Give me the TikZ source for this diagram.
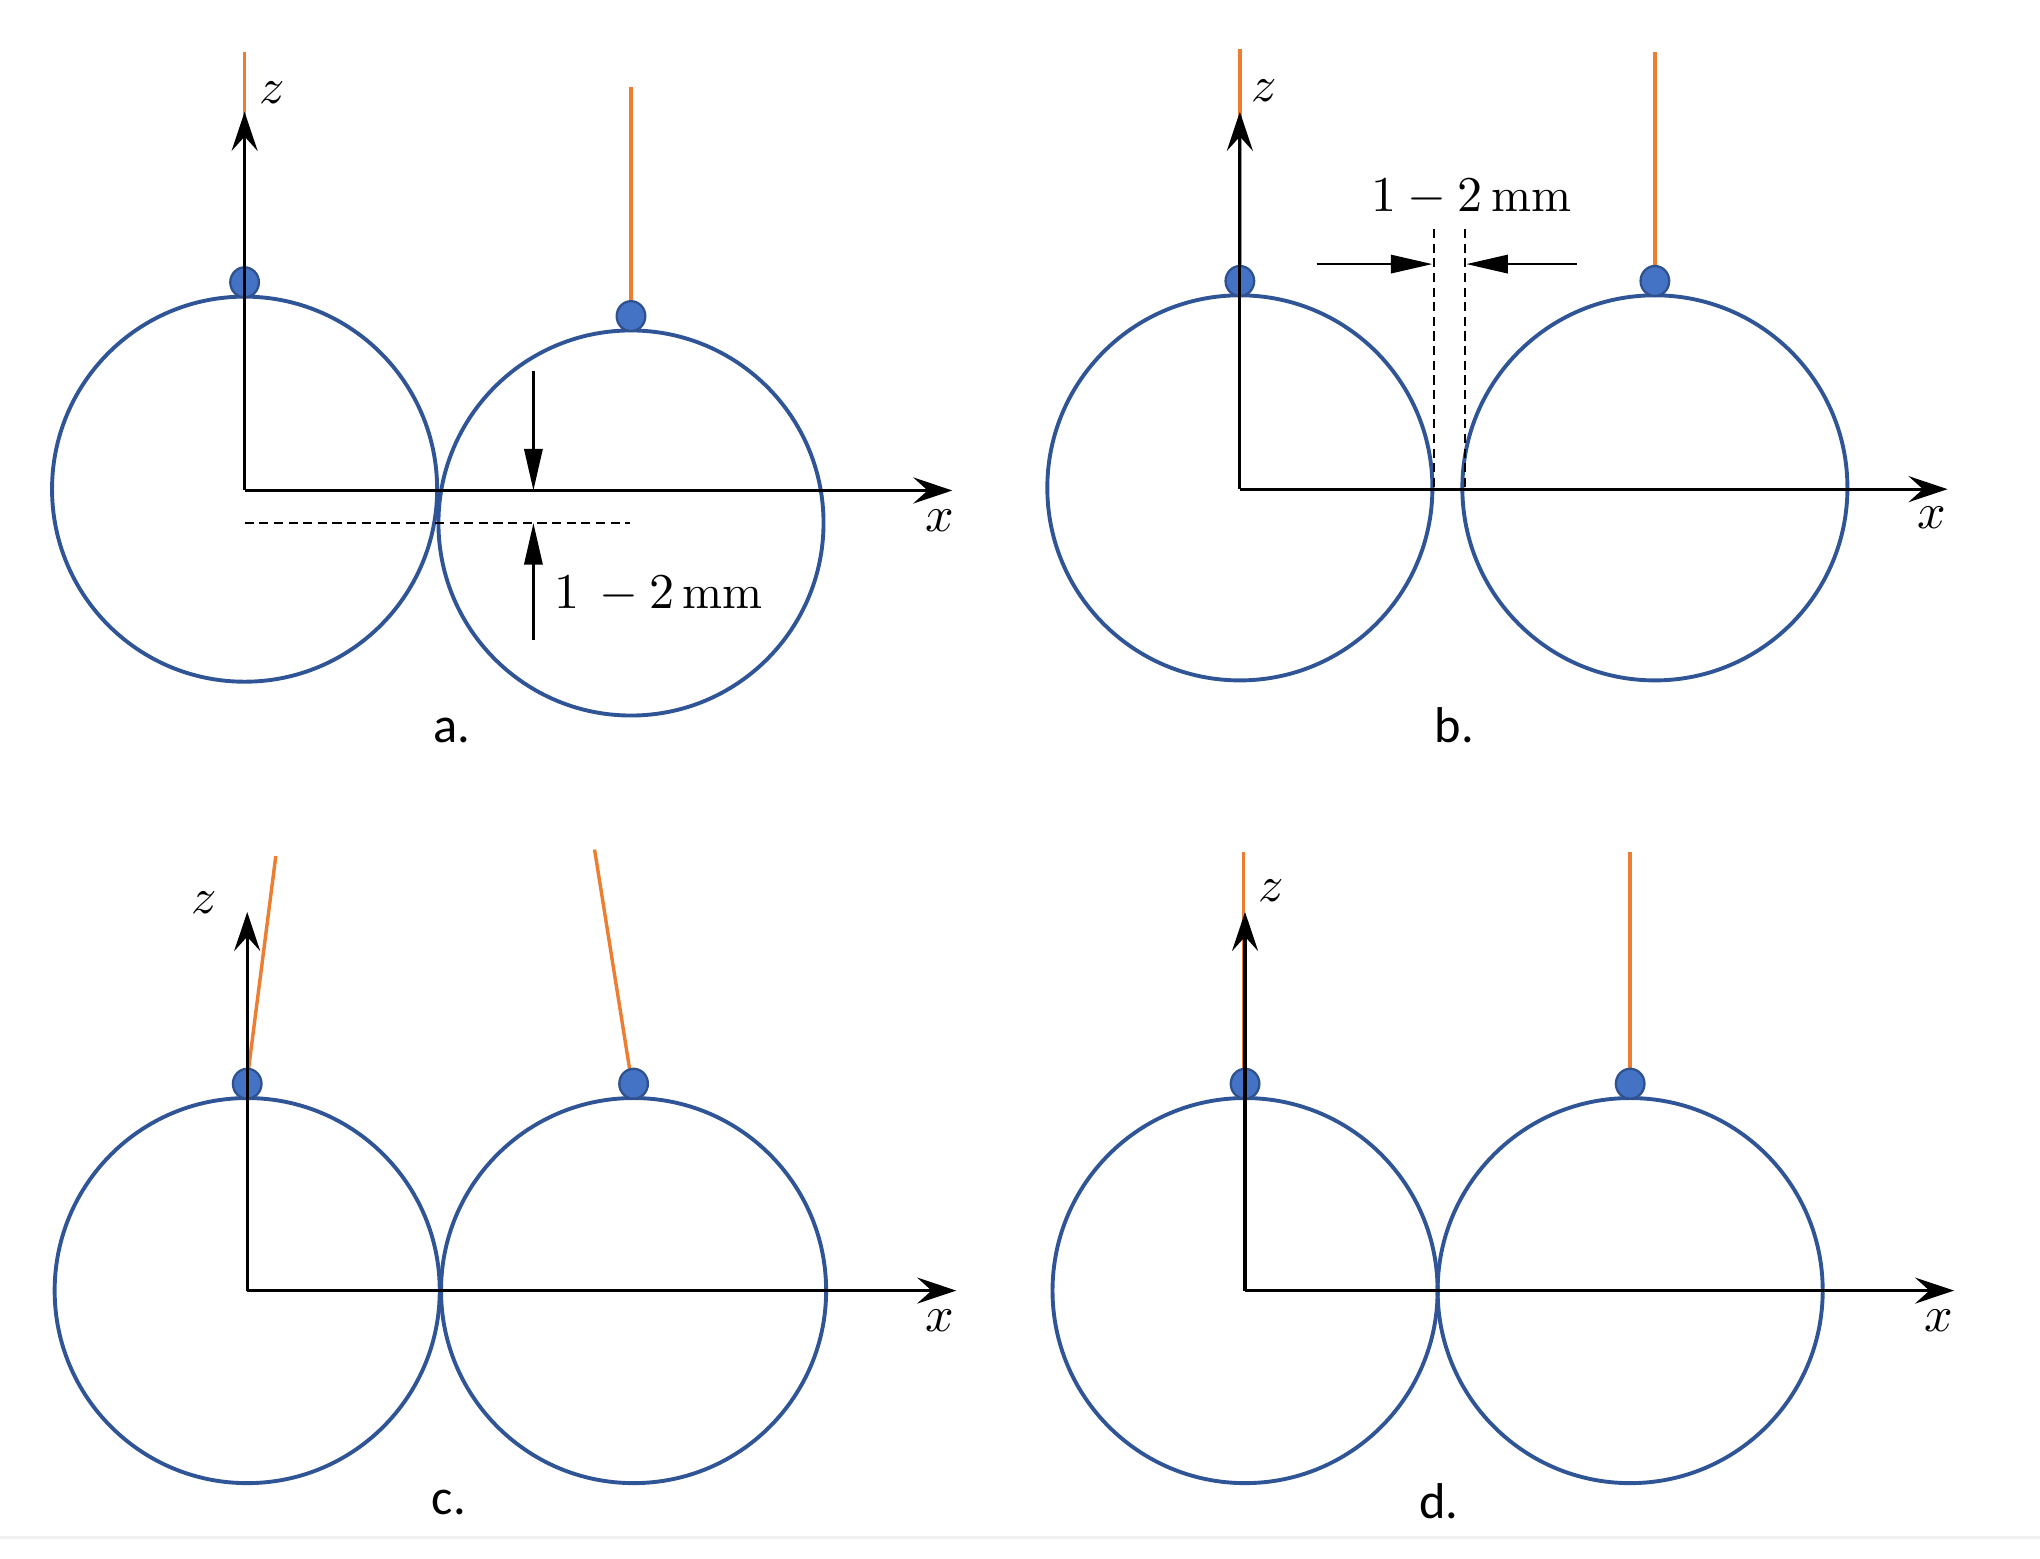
\documentclass[tikz,border=0pt]{standalone}
\usepackage{fontspec}
\newfontfamily\calfont{Carlito}
\usetikzlibrary{arrows.meta,calc}
\definecolor{ringblue}{HTML}{2F5597}
\definecolor{beadblue}{HTML}{4472C4}
\definecolor{beadedge}{HTML}{2F528F}
\definecolor{wireorange}{HTML}{ED7D31}
\def\ringbead(#1,#2){\draw[ring] (#1,#2) circle (148); \draw[bead] ($(#1,#2)+(0,-159)$) ellipse (11 and 11.5);}

\begin{document}
\begin{tikzpicture}[x=0.01cm, y=-0.01cm,
		ring/.style={draw=ringblue, line width=0.85pt},
		bead/.style={fill=beadblue, draw=beadedge, line width=0.5pt},
		wire/.style={draw=wireorange, line width=0.75pt},
		axis/.style={draw=black, line width=0.7pt, -{Stealth[length=3mm, width=2mm, inset=1.1mm]}},
		dimarrow/.style={draw=black, line width=0.6pt, -{Triangle[length=3.2mm, width=1.4mm]}},
		guide/.style={draw=black, line width=0.45pt, dash pattern=on 2pt off 1.2pt},
		axlabel/.style={font=\fontsize{10.5}{12}\selectfont},
		dimlabel/.style={font=\fontsize{10.5}{12}\selectfont},
		panel/.style={font=\calfont\fontsize{11}{13}\selectfont, anchor=base}]
			\useasboundingbox (0,0) rectangle (1568,1198);
			
			%%%%% a. %%%%%
			\draw[wire] (188,40) -- (188,206);
			\draw[wire] (485,67) -- (485,232);
			\ringbead(188,376)
			\ringbead(485,402)
			
			\coordinate (oa) at (188,377);
			\coordinate (za) at (188,86);
			\coordinate (xa) at (732,377);
			\draw[axis] (oa) -- (za);
			\draw[axis] (oa) -- (xa);
			\node[axlabel] (zla) at (209,71) {$z$};
			\node[axlabel] (xla) at (722,400) {$x$};
			
			\coordinate (ga1) at (188,402);
			\coordinate (ga2) at (484,402);
			\draw[guide] (ga1) -- (ga2);
			\coordinate (da1) at (410,285);
			\coordinate (da2) at (410,377);
			\coordinate (da3) at (410,492);
			\coordinate (da4) at (410,402);
			\draw[dimarrow] (da1) -- (da2);
			\draw[dimarrow] (da3) -- (da4);
			\node[dimlabel, anchor=west] (gapa) at (414,457) {$1\,-2\,\mathrm{mm}$};
			\node[panel] (pa) at (347,571) {a.};
			
			%%%%% b. %%%%%
			\draw[wire] (953,38) -- (953,205);
			\draw[wire] (1272,40) -- (1272,207);
			\ringbead(953,375)
			\ringbead(1272,375)
			
			\coordinate (ob) at (953,376);
			\coordinate (zb) at (953,86);
			\coordinate (xb) at (1497,376);
			\draw[axis] (ob) -- (zb);
			\draw[axis] (ob) -- (xb);
			\node[axlabel] (zlb) at (972,70) {$z$};
			\node[axlabel] (xlb) at (1485,398) {$x$};
			
			\coordinate (gb1) at (1102,176);
			\coordinate (gb2) at (1102,375);
			\coordinate (gb3) at (1126,176);
			\coordinate (gb4) at (1126,375);
			\draw[guide] (gb1) -- (gb2);
			\draw[guide] (gb3) -- (gb4);
			\coordinate (db1) at (1012,203);
			\coordinate (db2) at (1101,203);
			\coordinate (db3) at (1212,203);
			\coordinate (db4) at (1127,203);
			\draw[dimarrow] (db1) -- (db2);
			\draw[dimarrow] (db3) -- (db4);
			\node[dimlabel] (gapb) at (1131,152) {$1-2\,\mathrm{mm}$};
			\node[panel] (pb) at (1118,571) {b.};
			
			%%%%% c. %%%%%
			\draw[wire] (191,822) -- (212,658);
			\draw[wire] (484,822) -- (457,653);
			\ringbead(190,992)
			\ringbead(487,992)
			
			\coordinate (oc) at (190,992);
			\coordinate (zc) at (190,701);
			\coordinate (xc) at (735,992);
			\draw[axis] (oc) -- (zc);
			\draw[axis] (oc) -- (xc);
			\node[axlabel] (zlc) at (157,694) {$z$};
			\node[axlabel] (xlc) at (722,1015) {$x$};
			\node[panel] (pc) at (345,1164) {c.};
			
			%%%%% d. %%%%%
			\draw[wire] (956,655) -- (956,821);
			\draw[wire] (1253,655) -- (1253,821);
			\ringbead(957,992)
			\ringbead(1253,992)
			
			\coordinate (od) at (957,992);
			\coordinate (zd) at (957,701);
			\coordinate (xd) at (1502,992);
			\draw[axis] (od) -- (zd);
			\draw[axis] (od) -- (xd);
			\node[axlabel] (zld) at (977,685) {$z$};
			\node[axlabel] (xld) at (1490,1015) {$x$};
			\node[panel] (pd) at (1106,1167) {d.};
			
			\draw[black!6, line width=0.6pt] (0,1182) -- (1568,1182);
			
			%%%%% END %%%%%
		\end{tikzpicture}
\end{document}
